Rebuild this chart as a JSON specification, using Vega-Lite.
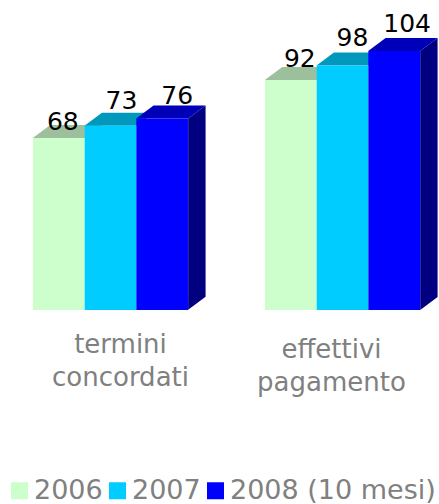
{"$schema":"https://vega.github.io/schema/vega-lite/v6.json","width":387,"height":290,"autosize":"none","padding":{"left":33,"top":20,"right":19,"bottom":194},"background":"white","config":{"view":{"stroke":null},"font":"DejaVu Sans"},
"data":{"values":[{"categoria":"termini concordati","anno":"2006","valore":68},{"categoria":"termini concordati","anno":"2007","valore":73},{"categoria":"termini concordati","anno":"2008 (10 mesi)","valore":76},{"categoria":"effettivi pagamento","anno":"2006","valore":92},{"categoria":"effettivi pagamento","anno":"2007","valore":98},{"categoria":"effettivi pagamento","anno":"2008 (10 mesi)","valore":104}]},
"encoding":{"x":{"field":"categoria","type":"nominal","sort":null,"scale":{"paddingInner":0.332,"paddingOuter":0},"title":null,"axis":{"domain":false,"ticks":false,"labelAngle":0,"labelPadding":21,"labelFontSize":26,"labelColor":"#808080","labelFont":"DejaVu Sans","labelLineHeight":33,"labelLimit":1000,"labelBaseline":"top","labelExpr":"split(datum.value,' ')","encoding":{"labels":{"dx":{"condition":{"test":"datum.value=='termini concordati'","value":10},"value":-11},"dy":{"condition":{"test":"datum.value=='termini concordati'","value":0},"value":5}}}}},"xOffset":{"field":"anno","type":"nominal","sort":null,"scale":{"paddingInner":0,"paddingOuter":0}},"y":{"field":"valore","type":"quantitative","scale":{"domain":[-3.2,116.8],"zero":false,"nice":false},"axis":null}},
"layer":[
{"mark":{"type":"point","filled":true,"opacity":1,"strokeWidth":0,"shape":"M-1,0 L1,0 L1.67,-0.5 L-0.33,-0.5 Z","size":2704},"encoding":{"fill":{"field":"anno","type":"nominal","sort":null,"scale":{"range":["#9CBF9C","#0099BB","#0000B8"]},"legend":null}}},
{"transform":[{"filter":"datum.anno=='2008 (10 mesi)' && datum.valore<90"}],"mark":{"type":"point","filled":true,"opacity":1,"strokeWidth":0,"color":"#000080","shape":"M1,0 L1.67,-0.5 L1.67,6.85 L1,7.35 Z","size":2704}},
{"transform":[{"filter":"datum.anno=='2008 (10 mesi)' && datum.valore>90"}],"mark":{"type":"point","filled":true,"opacity":1,"strokeWidth":0,"color":"#000080","shape":"M1,0 L1.67,-0.5 L1.67,9.46 L1,9.96 Z","size":2704}},
{"mark":{"type":"bar"},"encoding":{"y2":{"datum":-3.2},"color":{"field":"anno","type":"nominal","sort":null,"scale":{"domain":["2006","2007","2008 (10 mesi)"],"range":["#CCFFCC","#00CCFF","#0000FF"]},"legend":{"orient":"none","legendX":-27,"legendY":457,"direction":"horizontal","title":null,"symbolType":"square","symbolSize":289,"labelFontSize":27,"labelColor":"#808080","labelFont":"DejaVu Sans","labelOffset":1,"columnPadding":1,"labelLimit":1000}}}},
{"transform":[{"filter":"datum.valore==68"}],"mark":{"type":"text","fontSize":25,"color":"#000000","dx":4,"dy":-8,"baseline":"alphabetic"},"encoding":{"text":{"field":"valore"}}},
{"transform":[{"filter":"datum.valore==73"}],"mark":{"type":"text","fontSize":25,"color":"#000000","dx":11,"dy":-17,"baseline":"alphabetic"},"encoding":{"text":{"field":"valore"}}},
{"transform":[{"filter":"datum.valore==76"}],"mark":{"type":"text","fontSize":25,"color":"#000000","dx":15,"dy":-15,"baseline":"alphabetic"},"encoding":{"text":{"field":"valore"}}},
{"transform":[{"filter":"datum.valore==92"}],"mark":{"type":"text","fontSize":25,"color":"#000000","dx":9,"dy":-13,"baseline":"alphabetic"},"encoding":{"text":{"field":"valore"}}},
{"transform":[{"filter":"datum.valore==98"}],"mark":{"type":"text","fontSize":25,"color":"#000000","dx":10,"dy":-19,"baseline":"alphabetic"},"encoding":{"text":{"field":"valore"}}},
{"transform":[{"filter":"datum.valore==104"}],"mark":{"type":"text","fontSize":25,"color":"#000000","dx":13,"dy":-19,"baseline":"alphabetic"},"encoding":{"text":{"field":"valore"}}}
]}
